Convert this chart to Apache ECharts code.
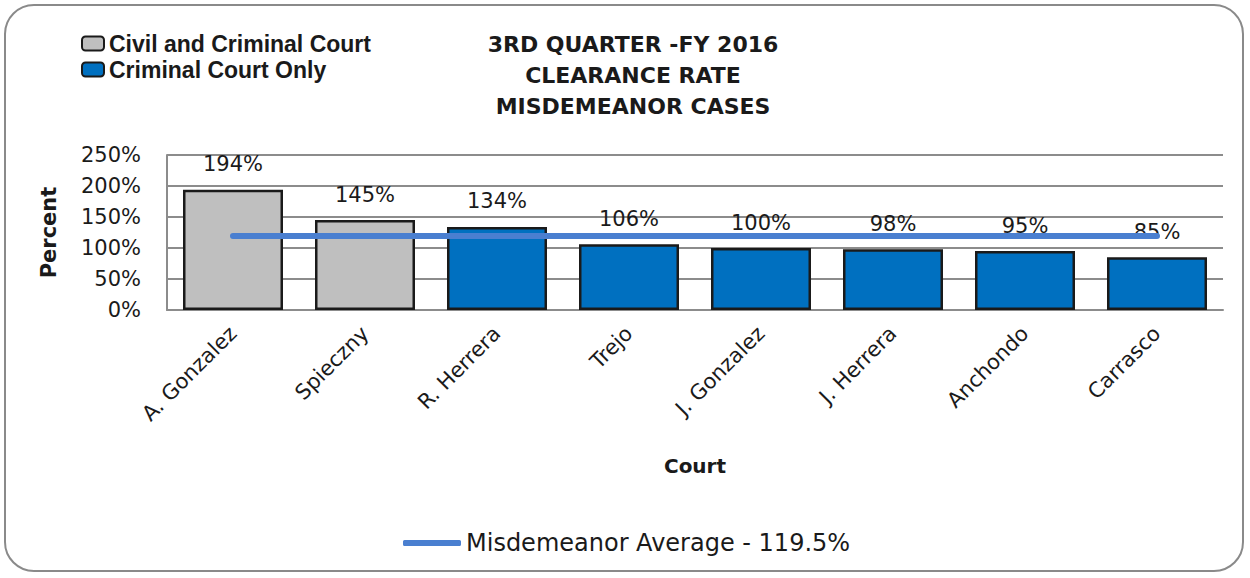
<!DOCTYPE html>
<html>
<head>
<meta charset="utf-8">
<script src="https://cdn.jsdelivr.net/npm/echarts@6/dist/echarts.min.js"></script>
<style>
  html, body { margin: 0; padding: 0; background: #fff; }
  #frame {
    position: absolute; left: 4px; top: 4px; width: 1240px; height: 568px;
    border: 2px solid #8a8a8a; border-radius: 30px; box-sizing: border-box;
  }
  #chart { position: absolute; left: 0; top: 0; width: 1250px; height: 578px; }
</style>
</head>
<body>
<div id="frame"></div>
<div id="chart"></div>
<script>
// ---- data ----
var courts = ['A. Gonzalez', 'Spieczny', 'R. Herrera', 'Trejo', 'J. Gonzalez', 'J. Herrera', 'Anchondo', 'Carrasco'];
var civilAndCriminal = [194, 145, null, null, null, null, null, null];
var criminalOnly = [null, null, 134, 106, 100, 98, 95, 85];
var averageRate = [119.5, 119.5, 119.5, 119.5, 119.5, 119.5, 119.5, 119.5];
var titleLines = ['3RD QUARTER -FY 2016', 'CLEARANCE RATE', 'MISDEMEANOR CASES'];

(function () {
  var ink = '#1a1a1a';
  var rule = '#8c8c8c';
  var gray = '#bfbfbf';
  var blue = '#0070c0';
  var avgBlue = '#4a7fd0';
  var font = '"DejaVu Sans", sans-serif';

  var chart = echarts.init(document.getElementById('chart'), null, { renderer: 'svg' });

  var barLabel = {
    show: true, position: 'top', distance: 15, color: ink, fontSize: 21,
    fontFamily: font, formatter: '{c}%'
  };

  chart.setOption({
    animation: false,
    title: {
      text: titleLines.join('\n'),
      left: 628, top: 24, textAlign: 'center',
      textStyle: { fontSize: 22, fontWeight: 'bold', color: ink, fontFamily: font, lineHeight: 31 }
    },
    legend: [
      {
        data: ['Civil and Criminal Court', 'Criminal Court Only'],
        orient: 'vertical', left: 76, top: 27, itemGap: 3,
        icon: 'roundRect', itemWidth: 22, itemHeight: 14,
        textStyle: { fontSize: 23, fontWeight: 'bold', color: ink, fontFamily: '"Liberation Sans", Arial, sans-serif' }
      },
      {
        data: ['Misdemeanor Average - 119.5%'],
        left: 398, top: 526, itemWidth: 58, itemHeight: 6, itemGap: 3,
        icon: 'roundRect',
        textStyle: { fontSize: 24, color: ink, fontFamily: font }
      }
    ],
    grid: { left: 167, right: 27, top: 155, bottom: 268 },
    xAxis: {
      type: 'category',
      data: courts,
      name: 'Court', nameLocation: 'middle', nameGap: 146,
      nameTextStyle: { fontSize: 20, fontWeight: 'bold', color: ink, fontFamily: font },
      axisTick: { show: false },
      axisLine: { lineStyle: { color: rule, width: 2 } },
      axisLabel: { rotate: 45, fontSize: 21, color: ink, fontFamily: font, margin: 20, interval: 0 }
    },
    yAxis: {
      type: 'value', min: 0, max: 250, interval: 50,
      name: 'Percent', nameLocation: 'middle', nameGap: 108,
      nameTextStyle: { fontSize: 21, fontWeight: 'bold', color: ink, fontFamily: font },
      axisLine: { show: true, lineStyle: { color: rule, width: 2 } },
      axisTick: { show: false },
      axisLabel: { fontSize: 21, color: ink, fontFamily: font, formatter: '{value}%', margin: 26 },
      splitLine: { lineStyle: { color: rule, width: 2 } }
    },
    series: [
      {
        name: 'Civil and Criminal Court', type: 'bar', stack: 'court',
        data: civilAndCriminal, barWidth: 100,
        itemStyle: { color: gray, borderColor: '#1a1a1a', borderWidth: 2.5 },
        label: barLabel
      },
      {
        name: 'Criminal Court Only', type: 'bar', stack: 'court',
        data: criminalOnly, barWidth: 100,
        itemStyle: { color: blue, borderColor: '#1a1a1a', borderWidth: 2.5 },
        label: barLabel
      },
      {
        name: 'Misdemeanor Average - 119.5%', type: 'line',
        data: averageRate, symbol: 'none', z: 5,
        lineStyle: { color: avgBlue, width: 6, cap: 'round' },
        itemStyle: { color: avgBlue }
      }
    ]
  });
  window.addEventListener('resize', function () { chart.resize(); });
})();
</script>
</body>
</html>
